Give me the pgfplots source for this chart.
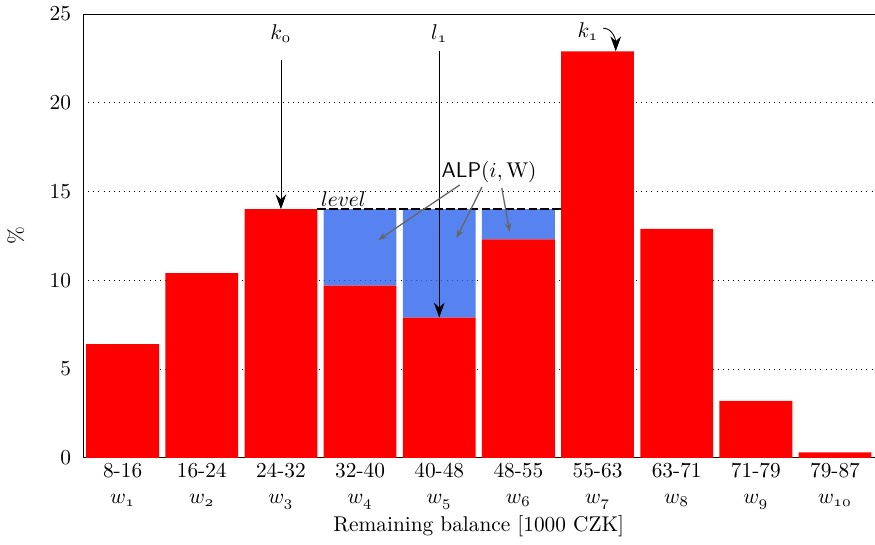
\documentclass[border=0pt]{standalone}
\usepackage{pgfplots}
\pgfplotsset{compat=1.18}
\usetikzlibrary{arrows.meta}

\definecolor{alpblue}{RGB}{45,100,236}

\begin{document}
\begin{tikzpicture}
\begin{axis}[
    scale only axis,
    width=371pt, height=208pt,
    ybar stacked,
    bar width=0.92,
    xmin=0.5, xmax=10.5,
    ymin=0, ymax=25,
    ytick={0,5,...,25},
    xtick={1,...,10},
    xticklabels={{8-16\\$w_{\oldstylenums{1}}$},{16-24\\$w_{\oldstylenums{2}}$},
      {24-32\\$w_{\oldstylenums{3}}$},{32-40\\$w_{\oldstylenums{4}}$},
      {40-48\\$w_{\oldstylenums{5}}$},{48-55\\$w_{\oldstylenums{6}}$},
      {55-63\\$w_{\oldstylenums{7}}$},{63-71\\$w_{\oldstylenums{8}}$},
      {71-79\\$w_{\oldstylenums{9}}$},{79-87\\$w_{\oldstylenums{10}}$}},
    xticklabel style={align=center, yshift=3pt},
    axis x line=bottom, axis y line=left,
    axis line style={-},
    tick style={draw=none},
    ymajorgrids,
    grid style={dotted, black},
    xlabel={Remaining balance [1000 CZK]},
    xlabel style={yshift=4pt},
    ylabel={\%},
    ylabel style={yshift=5pt},
]
% observed share per class
\addplot[fill=red, draw=none] coordinates {
    (1,6.4) (2,10.4) (3,14.0) (4,9.7) (5,7.9)
    (6,12.3) (7,22.9) (8,12.9) (9,3.2) (10,0.3)};
% fill up to the level
\addplot[fill=alpblue, fill opacity=0.8, draw=none] coordinates {
    (1,0) (2,0) (3,0) (4,4.3) (5,6.1)
    (6,1.7) (7,0) (8,0) (9,0) (10,0)};

% anchor points for the annotations (drawn after the axis)
\coordinate (TL) at (rel axis cs:0,1);
\coordinate (TR) at (rel axis cs:1,1);
\coordinate (lvA) at (axis cs:3.46,14);
\coordinate (lvB) at (axis cs:6.54,14);
\coordinate (lvT) at (axis cs:3.79,14.55);
\coordinate (k0t) at (axis cs:3,23.9);
\coordinate (k0a) at (axis cs:3,22.4);
\coordinate (k0b) at (axis cs:3,14);
\coordinate (l1t) at (axis cs:5,23.9);
\coordinate (l1a) at (axis cs:5,22.9);
\coordinate (l1b) at (axis cs:5,7.9);
\coordinate (k1t) at (axis cs:6.88,24.0);
\coordinate (k1a) at (axis cs:7.07,24.2);
\coordinate (k1b) at (axis cs:7.23,22.9);
\coordinate (alp) at (axis cs:5.63,16.1);
\coordinate (a1) at (axis cs:5.26,15.37);
\coordinate (b1) at (axis cs:4.23,12.27);
\coordinate (a2) at (axis cs:5.54,15.26);
\coordinate (b2) at (axis cs:5.22,12.39);
\coordinate (a3) at (axis cs:5.79,15.2);
\coordinate (b3) at (axis cs:5.89,12.73);
\end{axis}

\draw (TL) -- (TR);

\draw[black, line width=0.8pt, dash pattern=on 4pt off 1.5pt] (lvA) -- (lvB);
\node at (lvT) {$level$};

\node at (k0t) {$k_{\oldstylenums{0}}$};
\draw[-{Stealth[length=7pt,width=5pt]}] (k0a) -- (k0b);

\node at (l1t) {$l_{\oldstylenums{1}}$};
\draw[-{Stealth[length=7pt,width=5pt]}] (l1a) -- (l1b);

\node at (k1t) {$k_{\oldstylenums{1}}$};
\draw[-{Stealth[length=7pt,width=5pt]}] (k1a) to[out=0,in=90] (k1b);

\node at (alp) {\textsf{ALP}$(i,\mathrm{W})$};
\draw[-{Stealth[length=4pt,width=3pt]}, black!60, semithick] (a1) -- (b1);
\draw[-{Stealth[length=4pt,width=3pt]}, black!60, semithick] (a2) -- (b2);
\draw[-{Stealth[length=4pt,width=3pt]}, black!60, semithick] (a3) -- (b3);
\end{tikzpicture}
\end{document}
